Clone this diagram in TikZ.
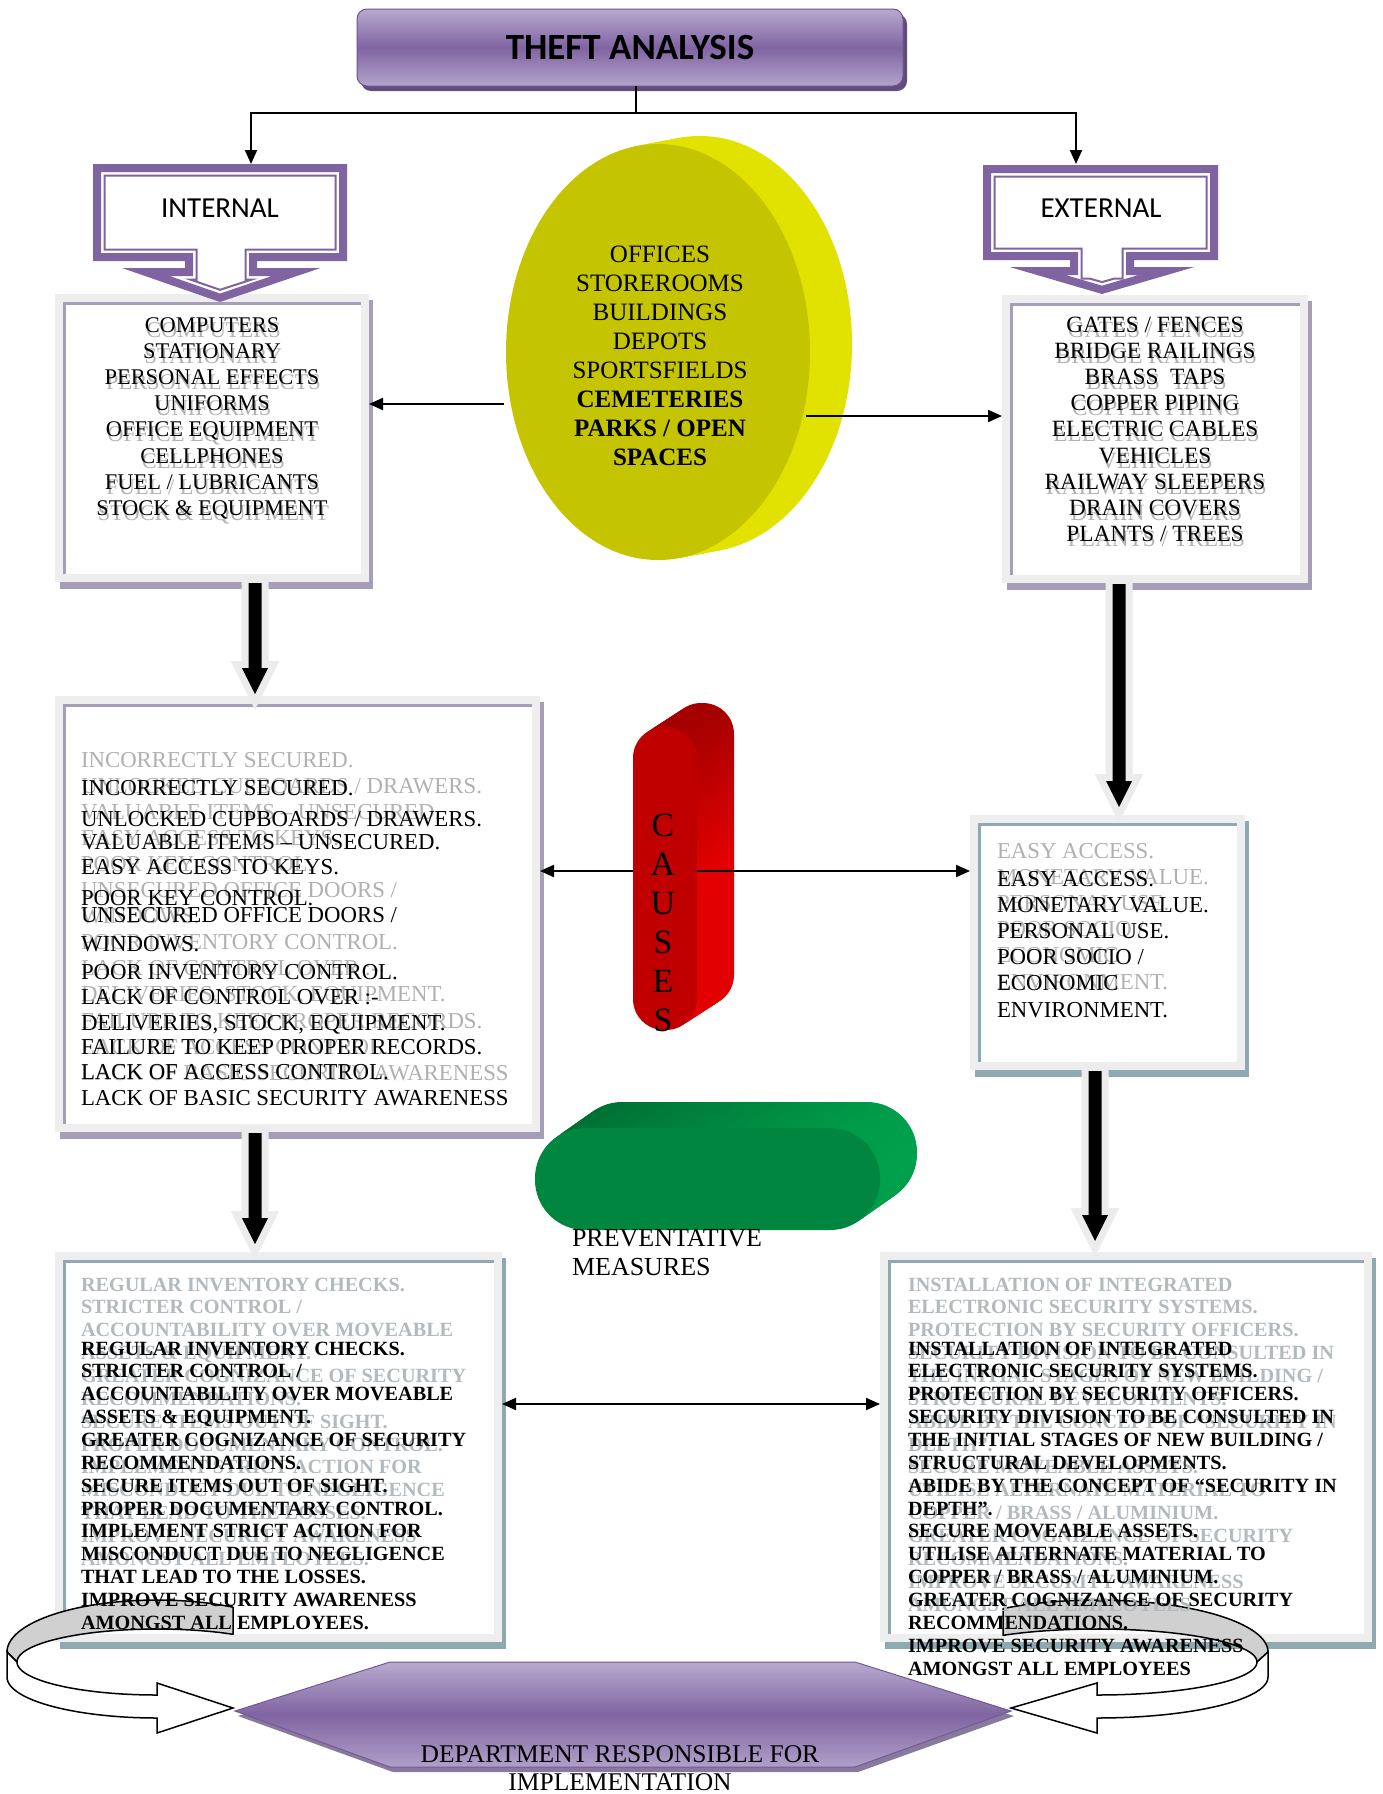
\documentclass[tikz,border=0pt]{standalone}
\usepackage{fontspec}
\setmainfont{Liberation Serif}
\newfontfamily\calibri{Carlito}
\usetikzlibrary{arrows.meta,calc}

\definecolor{pmain}{RGB}{128,100,162}
\definecolor{plight}{RGB}{184,170,208}
\definecolor{pdark}{RGB}{96,76,126}
\definecolor{framegray}{RGB}{238,238,238}
\definecolor{shP}{RGB}{166,158,182}
\definecolor{shB}{RGB}{143,169,177}
\definecolor{olive}{RGB}{196,196,0}
\definecolor{rim}{RGB}{226,226,0}
\definecolor{redF}{RGB}{192,0,0}
\definecolor{redS}{RGB}{226,0,0}
\definecolor{redT}{RGB}{165,0,0}
\definecolor{grnF}{RGB}{0,134,62}
\definecolor{grnS}{RGB}{0,160,76}
\definecolor{grnT}{RGB}{0,108,48}
\definecolor{ribgray}{RGB}{208,208,208}
\definecolor{ghostC}{RGB}{176,176,176}
\definecolor{ghostE}{RGB}{178,186,190}
\definecolor{glow}{RGB}{236,236,236}

\newcommand\fsz[1]{\fontsize{#1}{#1}\selectfont}

\newcommand\myframe[5]{%
  \fill[#5] (#1+5,#2+6) rectangle (#3+4,#4+7);
  \fill[framegray] (#1,#2) rectangle (#3,#4);
  \fill[white] (#1+8,#2+8) rectangle (#3-8,#4-8);
  \draw[#5,line width=3] (#1+9.5,#4-8) -- (#1+9.5,#2+9.5) -- (#3-8,#2+9.5);
}

\newcommand\callshape[2]{\path[#2] (\cL+#1,\cT+#1) -- (\cR-#1,\cT+#1) -- (\cR-#1,\cB-#1) -- (\cNR-#1,\cB-#1) -- (\cNR-#1,\cHT+#1) -- (\cHR-\cK*#1,\cHT+#1) -- (\cTX,\cTY-\cJ*#1) -- (\cHL+\cK*#1,\cHT+#1) -- (\cNL+#1,\cHT+#1) -- (\cNL+#1,\cB-#1) -- (\cL+#1,\cB-#1) -- cycle;}

\newcommand\blockarrow[2]{%
  \path[draw=glow,line width=14pt,line join=miter,miter limit=10] let \p1=(#1),\p2=(#2) in
    (\x1-6.5pt,\y1) -- (\x1-6.5pt,\y2+26pt) -- (\x1-13pt,\y2+26pt) -- (\x1,\y2) -- (\x1+13pt,\y2+26pt) -- (\x1+6.5pt,\y2+26pt) -- (\x1+6.5pt,\y1) -- cycle;
  \path[fill=black] let \p1=(#1),\p2=(#2) in
    (\x1-6.5pt,\y1) -- (\x1-6.5pt,\y2+26pt) -- (\x1-13pt,\y2+26pt) -- (\x1,\y2) -- (\x1+13pt,\y2+26pt) -- (\x1+6.5pt,\y2+26pt) -- (\x1+6.5pt,\y1) -- cycle;
}

\newcommand\ribbon[7]{%
  \draw[line width=1.5, fill=ribgray, line join=round]
    plot[domain=#5:180,samples=60] ({#1+#2*#3*cos(\x)},{1652-52*sin(\x)})
    -- ({#1-#2*#4},1662)
    -- plot[domain=180:#6,samples=60] ({#1+#2*#4*cos(\x)},{1662-33*sin(\x)})
    -- cycle;
  \draw[line width=1.5, fill=white, line join=miter]
    ({#1-#2*#3},1652) -- ({#1-#2*#3},1677)
    -- plot[domain=180:270,samples=40] ({#1+#2*#3*cos(\x)},{1677-41*sin(\x)})
    -- (#1,1733) -- ({#1+#2*#7},1708) -- (#1,1683) -- (#1,1695)
    -- plot[domain=270:180,samples=40] ({#1+#2*#4*cos(\x)},{1662-33*sin(\x)})
    -- cycle;
}

\begin{document}
\begin{tikzpicture}[x=1pt,y=-1pt,
  every node/.style={inner sep=0pt,outer sep=0pt},
  conn/.style={line width=2pt},
  tip/.style={-{Triangle[length=14pt,width=12pt]}},
  rega/.style={font=\fsz{22.4}},
  regb/.style={font=\fsz{23.3}},
  reg/.style={font=\fsz{22.8}},
  bld/.style={font=\bfseries\fsz{20.2}}]
\useasboundingbox (0,0) rectangle (1383,1794);
\fill[white] (0,0) rectangle (1383,1794);

% ---------- title ----------
\fill[pdark,rounded corners=10pt] (361,14) rectangle (907,91);
\node[rounded corners=10pt,top color=plight,bottom color=plight!90!pmain,middle color=pmain,
      draw=pmain!85!black,line width=1pt,minimum width=546pt,minimum height=77pt,
      font=\calibri\bfseries\fsz{37}] (title) at (630,47.5) {THEFT ANALYSIS};

\path (title.south) ++(6,27) coordinate (hub);
\coordinate (intTop) at (251,164);
\coordinate (extTop) at (1076,164);
\draw[conn] (title.south -| hub) -- (hub);
\draw[conn,tip] (hub) -| (intTop);
\draw[conn,tip] (hub) -| (extTop);

% ---------- boxes A, B ----------
\myframe{55}{294}{369}{582}{shP}
\myframe{1002}{295}{1308}{583}{shP}
\node[minimum width=314pt,minimum height=288pt] (boxA) at (212,438) {};
\node[minimum width=306pt,minimum height=288pt] (boxB) at (1155,439) {};

% ---------- callouts ----------
\def\cL{93}\def\cR{347}\def\cT{164}\def\cB{261}\def\cNL{185}\def\cNR{257}\def\cHT{268}
\def\cHL{122}\def\cHR{320}\def\cTX{220}\def\cTY{302}\def\cK{5.93}\def\cJ{1.06}
\callshape{0}{fill=white}
\callshape{4}{draw=pmain,line width=8,miter limit=10}
\callshape{11.5}{draw=pmain,line width=2,miter limit=10}
\node[font=\calibri\fsz{29},anchor=base] (int) at (220,217) {INTERNAL};

\def\cL{983}\def\cR{1218}\def\cT{165}\def\cB{260}\def\cNL{1070}\def\cNR{1134}\def\cHT{267}
\def\cHL{1010}\def\cHR{1194}\def\cTX{1102}\def\cTY{294}\def\cK{6.9}\def\cJ{1.04}
\callshape{0}{fill=white}
\callshape{4}{draw=pmain,line width=8,miter limit=10}
\callshape{11.5}{draw=pmain,line width=2,miter limit=10}
\node[font=\calibri\fsz{29},anchor=base] (ext) at (1101,217) {EXTERNAL};

% ---------- yellow disc ----------
\foreach \t in {1,0.9,...,0.05} {\fill[rim] ({658+42*\t},{352-8*\t}) ellipse [x radius=152, y radius=208];}
\fill[olive] (658,352) ellipse [x radius=152, y radius=208];
\foreach \s [count=\i from 0] in {OFFICES,STOREROOMS,BUILDINGS,DEPOTS,SPORTSFIELDS}
  {\node[anchor=base,font=\fsz{25}] (y\i) at (660,{262+29.1*\i}) {\s};}
\foreach \s [count=\i from 5] in {CEMETERIES,PARKS / OPEN,SPACES}
  {\node[anchor=base,font=\bfseries\fsz{25}] (y\i) at (660,{262+29.1*\i}) {\s};}
\coordinate (ellW) at (504,404);
\coordinate (ellE) at (806,416);
\draw[conn,tip] (ellW) -- (ellW -| boxA.east);
\draw[conn,tip] (ellE) -- (ellE -| boxB.west);

% ---------- boxes C, D ----------
\myframe{55}{696}{540}{1132}{shP}
\myframe{970}{815}{1245}{1070}{shB}
\node[minimum width=485pt,minimum height=436pt] (boxC) at (297.5,914) {};
\node[minimum width=275pt,minimum height=255pt] (boxD) at (1107.5,942.5) {};
\coordinate (a1s) at (255,583); \coordinate (a1e) at (255,694);
\coordinate (a2s) at (1119,584); \coordinate (a2e) at (1119,807);
\blockarrow{a1s}{a1e}
\blockarrow{a2s}{a2e}

% ---------- red CAUSES ----------
\foreach \t in {1,0.92,...,0.04} {\shade[top color=redT,bottom color=redS,middle color=redS,rounded corners=31pt] ({633+37*\t},{727-24*\t}) rectangle ({697+37*\t},{1030-24*\t});}
\fill[redF,rounded corners=31pt] (633,727) rectangle (697,1030);
\foreach \s/\yy [count=\i] in {C/836,A/875,U/914,S/953,E/992,S/1031}
  {\node[anchor=base,font=\fsz{34}] (cs\i) at (663,\yy) {\s};}
\coordinate (cauW) at (633,871);
\coordinate (cauE) at (697,871);
\draw[conn,tip] (cauW) -- (cauW -| boxC.east);
\draw[conn,tip] (cauE) -- (cauE -| boxD.west);

% ---------- green PREVENTATIVE MEASURES ----------
\foreach \t in {1,0.92,...,0.04} {\shade[left color=grnT,right color=grnS,rounded corners=50pt] ({535+37*\t},{1128-26*\t}) rectangle ({880+37*\t},{1230-26*\t});}
\fill[grnF,rounded corners=50pt] (535,1128) rectangle (880,1230);
\node[anchor=base west,font=\fsz{26}] (pm1) at (572,1246) {PREVENTATIVE};
\node[anchor=base west,font=\fsz{26}] (pm2) at (572,1275) {MEASURES};

% ---------- boxes E, F ----------
\myframe{55}{1252}{502}{1642}{shB}
\myframe{880}{1252}{1372}{1642}{shB}
\node[minimum width=447pt,minimum height=390pt] (boxE) at (278.5,1447) {};
\node[minimum width=492pt,minimum height=390pt] (boxF) at (1126,1447) {};
\coordinate (a3s) at (255,1133); \coordinate (a3e) at (255,1244);
\coordinate (a4s) at (1095,1071); \coordinate (a4e) at (1095,1241);
\blockarrow{a3s}{a3e}
\blockarrow{a4s}{a4e}
\coordinate (ef) at (700,1404);
\draw[conn,{Triangle[length=14pt,width=12pt]}-{Triangle[length=14pt,width=12pt]}] (ef -| boxE.east) -- (ef -| boxF.west);

% ---------- ribbons and hexagon ----------
\ribbon{157}{1}{150}{140}{59.55}{57.12}{76}
\ribbon{1097}{(-1)}{171}{160}{56.65}{54.02}{86}
\fill[pdark!75] (238,1716) -- (393,1667) -- (858,1667) -- (1014,1716) -- (858,1772) -- (393,1772) -- cycle;
\shade[top color=plight,bottom color=plight!85!pmain,middle color=pmain]
  (235,1711) -- (390,1662) -- (855,1662) -- (1011,1711) -- (855,1767) -- (390,1767) -- cycle;
\draw[pmain!90!black,line width=1pt] (235,1711) -- (390,1662) -- (855,1662) -- (1011,1711) -- (855,1767) -- (390,1767) -- cycle;
\node[anchor=base,font=\fsz{25.5}] (dep1) at (620,1762) {DEPARTMENT RESPONSIBLE FOR};
\node[anchor=base,font=\fsz{25.5}] (dep2) at (620,1790) {IMPLEMENTATION};

% ---------- texts of A, B ----------
\foreach \s [count=\i from 0] in {COMPUTERS,STATIONARY,PERSONAL EFFECTS,UNIFORMS,OFFICE EQUIPMENT,CELLPHONES,FUEL / LUBRICANTS,STOCK \& EQUIPMENT}{
  \node[anchor=base,rega,text=black!30] (ag\i) at (213.5,{337+26.2*\i}) {\s};
  \node[anchor=base,rega] (at\i) at (212,{332+26.2*\i}) {\s};}
\foreach \s [count=\i from 0] in {GATES / FENCES,BRIDGE RAILINGS,BRASS\ \ TAPS,COPPER PIPING,ELECTRIC CABLES,VEHICLES,RAILWAY SLEEPERS,DRAIN COVERS,PLANTS / TREES}{
  \node[anchor=base,regb,text=black!30] (bg\i) at (1156.5,{337+26.2*\i}) {\s};
  \node[anchor=base,regb] (bt\i) at (1155,{332+26.2*\i}) {\s};}

% ---------- texts of C ----------
\foreach \s [count=\i from 0] in {INCORRECTLY SECURED.,UNLOCKED CUPBOARDS / DRAWERS.,VALUABLE ITEMS – UNSECURED.,EASY ACCESS TO KEYS.,POOR KEY CONTROL.,UNSECURED OFFICE DOORS /,WINDOWS.,POOR INVENTORY CONTROL.,LACK OF CONTROL OVER :-,{DELIVERIES, STOCK, EQUIPMENT.},FAILURE TO KEEP PROPER RECORDS.,LACK OF ACCESS CONTROL.,LACK OF BASIC SECURITY AWARENESS}
  {\node[anchor=base west,reg,text=ghostC] (cg\i) at (81,{767+26.1*\i}) {\s};}
\node[anchor=base west,reg] (c1) at (81,795) {INCORRECTLY SECURED.};
\node[anchor=base west,reg] (c2) at (81,826) {UNLOCKED CUPBOARDS / DRAWERS.};
\node[anchor=base west,reg] (c3) at (81,849) {VALUABLE ITEMS – UNSECURED.};
\node[anchor=base west,reg] (c4) at (81,874) {EASY ACCESS TO KEYS.};
\node[anchor=base west,reg] (c5) at (81,905) {POOR KEY CONTROL.};
\node[anchor=base west,reg] (c6) at (81,922) {UNSECURED OFFICE DOORS /};
\node[anchor=base west,reg] (c7) at (81,951) {WINDOWS.};
\node[anchor=base west,reg] (c8) at (81,979) {POOR INVENTORY CONTROL.};
\node[anchor=base west,reg] (c9) at (81,1004) {LACK OF CONTROL OVER :-};
\node[anchor=base west,reg] (c10) at (81,1030) {DELIVERIES, STOCK, EQUIPMENT.};
\node[anchor=base west,reg] (c11) at (81,1054) {FAILURE TO KEEP PROPER RECORDS.};
\node[anchor=base west,reg] (c12) at (81,1079) {LACK OF ACCESS CONTROL.};
\node[anchor=base west,reg] (c13) at (81,1105) {LACK OF BASIC SECURITY AWARENESS};

% ---------- texts of D ----------
\foreach \s [count=\i from 0] in {EASY ACCESS.,MONETARY VALUE.,PERSONAL USE.,POOR SOCIO /,ECONOMIC,ENVIRONMENT.}
  {\node[anchor=base west,reg,text=ghostC] (dg\i) at (997,{858+26.2*\i}) {\s};}
\foreach \s [count=\i from 0] in {EASY ACCESS.,MONETARY VALUE.,PERSONAL USE.,POOR SOCIO /,ECONOMIC,ENVIRONMENT.}
  {\node[anchor=base west,reg] (dt\i) at (997,{886+26.2*\i}) {\s};}

% ---------- texts of E ----------
\foreach \s [count=\i from 0] in {REGULAR INVENTORY CHECKS.,STRICTER CONTROL /,ACCOUNTABILITY OVER MOVEABLE,ASSETS \& EQUIPMENT.,GREATER COGNIZANCE OF SECURITY,RECOMMENDATIONS.,SECURE ITEMS OUT OF SIGHT.,PROPER DOCUMENTARY CONTROL.,IMPLEMENT STRICT ACTION FOR,MISCONDUCT DUE TO NEGLIGENCE,THAT LEAD TO THE LOSSES.,IMPROVE SECURITY AWARENESS,AMONGST ALL EMPLOYEES.}{
  \node[anchor=base west,bld,text=ghostE] (eg\i) at (81,{1291+22.86*\i}) {\s};}
\foreach \s [count=\i from 0] in {REGULAR INVENTORY CHECKS.,STRICTER CONTROL /,ACCOUNTABILITY OVER MOVEABLE,ASSETS \& EQUIPMENT.,GREATER COGNIZANCE OF SECURITY,RECOMMENDATIONS.,SECURE ITEMS OUT OF SIGHT.,PROPER DOCUMENTARY CONTROL.,IMPLEMENT STRICT ACTION FOR,MISCONDUCT DUE TO NEGLIGENCE,THAT LEAD TO THE LOSSES.,IMPROVE SECURITY AWARENESS,AMONGST ALL EMPLOYEES.}{
  \node[anchor=base west,bld] (et\i) at (81,{1355+22.86*\i}) {\s};}

% ---------- texts of F ----------
\foreach \s [count=\i from 0] in {INSTALLATION OF INTEGRATED,ELECTRONIC SECURITY SYSTEMS.,PROTECTION BY SECURITY OFFICERS.,SECURITY DIVISION TO BE CONSULTED IN,THE INITIAL STAGES OF NEW BUILDING /,STRUCTURAL DEVELOPMENTS.,ABIDE BY THE CONCEPT OF “SECURITY IN,DEPTH”.,SECURE MOVEABLE ASSETS.,UTILISE ALTERNATE MATERIAL TO,COPPER / BRASS / ALUMINIUM.,GREATER COGNIZANCE OF SECURITY,RECOMMENDATIONS.,IMPROVE SECURITY AWARENESS,AMONGST ALL EMPLOYEES}{
  \node[anchor=base west,bld,text=ghostE] (fg\i) at (908,{1291+22.86*\i}) {\s};}
\foreach \s [count=\i from 0] in {INSTALLATION OF INTEGRATED,ELECTRONIC SECURITY SYSTEMS.,PROTECTION BY SECURITY OFFICERS.,SECURITY DIVISION TO BE CONSULTED IN,THE INITIAL STAGES OF NEW BUILDING /,STRUCTURAL DEVELOPMENTS.,ABIDE BY THE CONCEPT OF “SECURITY IN,DEPTH”.,SECURE MOVEABLE ASSETS.,UTILISE ALTERNATE MATERIAL TO,COPPER / BRASS / ALUMINIUM.,GREATER COGNIZANCE OF SECURITY,RECOMMENDATIONS.,IMPROVE SECURITY AWARENESS,AMONGST ALL EMPLOYEES}{
  \node[anchor=base west,bld] (ft\i) at (908,{1355+22.86*\i}) {\s};}
\end{tikzpicture}
\end{document}
